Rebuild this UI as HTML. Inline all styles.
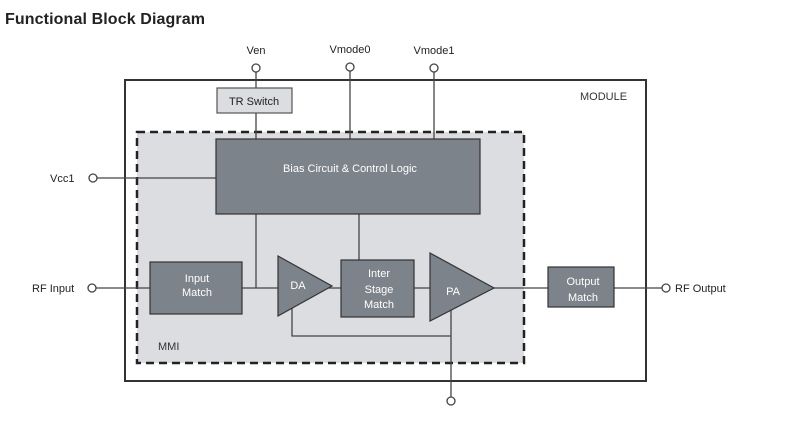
<!DOCTYPE html>
<html><head><style>body{margin:0;background:#fff}</style></head><body>
<svg width="798" height="419" viewBox="0 0 798 419" xmlns="http://www.w3.org/2000/svg" font-family="Liberation Sans, sans-serif">
<text x="5" y="24" font-size="16" font-weight="bold" fill="#222" textLength="200">Functional Block Diagram</text>
<rect x="125" y="80" width="521" height="301" fill="#fff" stroke="#333" stroke-width="2"/>
<text x="580" y="100" font-size="11" fill="#333">MODULE</text>
<rect x="137" y="132" width="387" height="231" fill="#dcdde1" stroke="#222" stroke-width="2.5" stroke-dasharray="8,5"/>
<text x="158" y="350" font-size="11" fill="#333">MMI</text>
<g stroke="#444" stroke-width="1.3" fill="none">
<line x1="256" y1="72" x2="256" y2="139"/>
<line x1="350" y1="71" x2="350" y2="139"/>
<line x1="434" y1="72" x2="434" y2="139"/>
<line x1="97" y1="178" x2="216" y2="178"/>
<line x1="96" y1="288" x2="662" y2="288"/>
<line x1="256" y1="214" x2="256" y2="288"/>
<line x1="359" y1="214" x2="359" y2="260"/>
<polyline points="292,300 292,336 451,336"/>
<line x1="451" y1="310" x2="451" y2="397"/>
<circle cx="256" cy="68" r="4" fill="#fff"/>
<circle cx="350" cy="67" r="4" fill="#fff"/>
<circle cx="434" cy="68" r="4" fill="#fff"/>
<circle cx="93" cy="178" r="4" fill="#fff"/>
<circle cx="92" cy="288" r="4" fill="#fff"/>
<circle cx="666" cy="288" r="4" fill="#fff"/>
<circle cx="451" cy="401" r="4" fill="#fff"/>
</g>
<rect x="217" y="88" width="75" height="25" fill="#dcdde1" stroke="#555" stroke-width="1.2"/>
<text x="254" y="105" font-size="11" text-anchor="middle" fill="#222">TR Switch</text>
<g fill="#7d838a" stroke="#333" stroke-width="1.2">
<rect x="216" y="139" width="264" height="75"/>
<rect x="150" y="262" width="92" height="52"/>
<polygon points="278,256 332,286 278,316"/>
<rect x="341" y="260" width="73" height="57"/>
<polygon points="430,253 494,288 430,321"/>
<rect x="548" y="267" width="66" height="40"/>
</g>
<g fill="#fff" font-size="11" text-anchor="middle">
<text x="350" y="172">Bias Circuit &amp; Control Logic</text>
<text x="197" y="282">Input</text><text x="197" y="296">Match</text>
<text x="298" y="289">DA</text>
<text x="379" y="277">Inter</text><text x="379" y="293">Stage</text><text x="379" y="308">Match</text>
<text x="453" y="295">PA</text>
<text x="583" y="285">Output</text><text x="583" y="301">Match</text>
</g>
<g font-size="11" fill="#222">
<text x="256" y="54" text-anchor="middle">Ven</text>
<text x="350" y="53" text-anchor="middle">Vmode0</text>
<text x="434" y="54" text-anchor="middle">Vmode1</text>
<text x="50" y="182">Vcc1</text>
<text x="32" y="292">RF Input</text>
<text x="675" y="292">RF Output</text>
</g>
</svg>
</body></html>
